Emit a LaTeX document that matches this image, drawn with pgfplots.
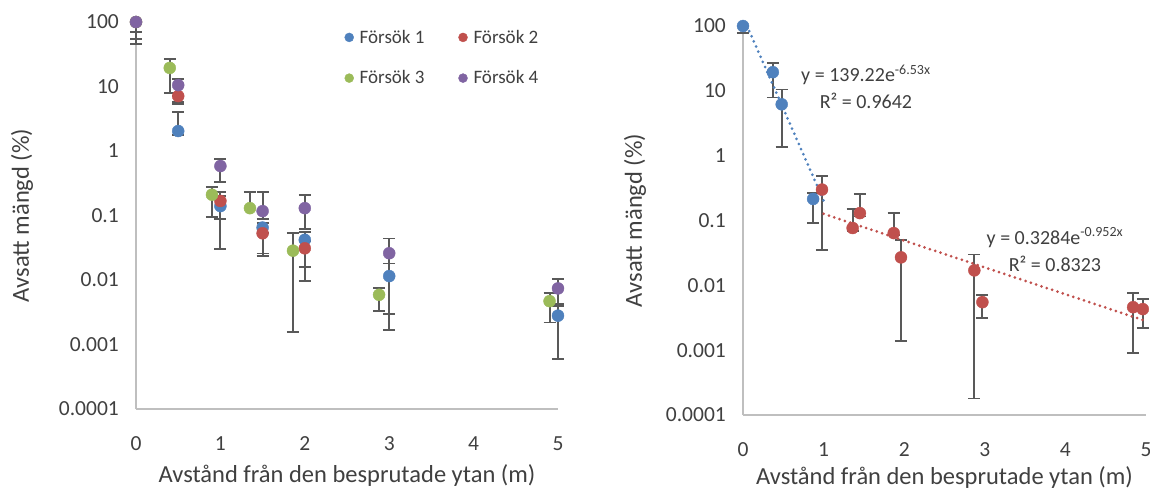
\documentclass[border=0pt]{standalone}
\usepackage{pgfplots}
\usepackage{pgfplotstable}
\pgfplotsset{compat=1.18}
\usepackage{fontspec}
\setmainfont{Carlito}
\definecolor{s1}{HTML}{4F81BD}
\definecolor{s2}{HTML}{C0504D}
\definecolor{s3}{HTML}{9BBB59}
\definecolor{s4}{HTML}{8064A2}
\definecolor{errc}{HTML}{595959}
\definecolor{axc}{HTML}{BFBFBF}
\definecolor{txt}{HTML}{404040}

% Left chart: x y (error plus) (error minus)
\pgfplotstableread{
x y ep em
0 100 0 30
0.5 2.04 1.96 0.27
1 0.14 0.06 0.11
1.5 0.065 0.012 0.0393
2 0.042 0.013 0.0261
3 0.0115 0.0065 0.0098
5 0.0028 0.0012 0.0022
}\Lone
\pgfplotstableread{
x y ep em
0 100 0 46
0.5 7.1 0 1.7
1 0.168 0.062 0.079
1.5 0.053 0 0.0295
2 0.031 0.009 0.0213
}\Ltwo
\pgfplotstableread{
x y ep em
0 100 0 54
0.4 19.4 7.3 11.5
0.9 0.21 0.065 0.115
1.35 0.13 0.10 0
1.86 0.0285 0.0245 0.02694
2.88 0.0059 0.0016 0.0026
4.9 0.0047 0.0016 0.0025
}\Lthree
\pgfplotstableread{
x y ep em
0 100 0 0
0.5 10.5 2.6 4.75
1 0.585 0.165 0.255
1.5 0.117 0.113 0.028
2 0.13 0.08 0.069
3 0.026 0.018 0.023
5 0.0074 0.003 0.0031
}\Lfour
% Right chart
\pgfplotstableread{
x y ep em
0 100 0 22
0.37 19.4 7.4 11.5
0.48 6.2 4.3 4.82
0.87 0.215 0.052 0.123
}\Rone
\pgfplotstableread{
x y ep em
0.98 0.30 0.19 0.265
1.36 0.0766 0.074 0.0076
1.45 0.13 0.127 0.015
1.87 0.064 0.066 0.004
1.96 0.027 0.023 0.0256
2.87 0.017 0.013 0.01682
2.97 0.0055 0.0016 0.0024
4.84 0.0046 0.003 0.0037
4.96 0.0043 0.0019 0.0021
}\Rtwo

\pgfplotsset{
  pts/.style={only marks, mark=*, mark size=6pt, color=#1,
    error bars/y dir=both, error bars/y explicit,
    error bars/draw error bar/.code 2 args={%
      \draw[errc, line width=2.1pt] ##1 -- ##2;
      \draw[errc, line width=1.8pt] ##2 ++(-6pt,0) -- ++(12pt,0);}},
  trend/.style={#1, no marks, line width=3pt, line cap=round, dash pattern=on 0pt off 5.6pt},
}

\begin{document}
\begin{tikzpicture}
\useasboundingbox (0,0) rectangle (1150pt,491pt);

\begin{axis}[
  scale only axis, ymode=log, xmin=0, xmax=5, ymin=1e-4, ymax=100,
  axis x line*=bottom, axis y line*=left,
  axis line style={draw=axc, line width=1.5pt, -},
  major tick length=0pt, minor tick length=0pt,
  xtick={0,1,2,3,4,5}, xticklabels={0,1,2,3,4,5},
  ytick={1e-4,1e-3,1e-2,1e-1,1,10,100},
  yticklabels={0.0001,0.001,0.01,0.1,1,10,100},
  tick label style={font=\fontsize{21.5}{24}\selectfont, text=txt},
  yticklabel style={anchor=east, inner sep=0pt, xshift=-17pt},
  xticklabel style={anchor=north, inner sep=0pt, yshift=-27pt},
  clip=false,
  at={(136pt,82pt)}, anchor=south west, width=422pt, height=387pt,
  xlabel={Avstånd från den besprutade ytan (m)},
  ylabel={Avsatt mängd (\%)},
  every axis x label/.style={at={(axis description cs:0.5,0)}, anchor=center, yshift=-67pt,
    font=\fontsize{24.5}{28}\selectfont, text=txt},
  every axis y label/.style={at={(axis description cs:0,0.5)}, xshift=-114pt, rotate=90, anchor=center,
    font=\fontsize{24.5}{28}\selectfont, text=txt},
  legend columns=2,
  legend image post style={mark size=4.5pt},
  legend style={at={(0.487,0.99)}, anchor=north west, draw=none, fill=none,
    font=\fontsize{19}{21}\selectfont, text=txt, row sep=22pt,
    nodes={inner xsep=6pt},
    /tikz/every even column/.append style={column sep=28pt}},
]
\addplot[pts=s1] table[x=x,y=y,y error plus=ep,y error minus=em]{\Lone};
\addlegendentry{Försök 1}
\addplot[pts=s2] table[x=x,y=y,y error plus=ep,y error minus=em]{\Ltwo};
\addlegendentry{Försök 2}
\addplot[pts=s3] table[x=x,y=y,y error plus=ep,y error minus=em]{\Lthree};
\addlegendentry{Försök 3}
\addplot[pts=s4] table[x=x,y=y,y error plus=ep,y error minus=em]{\Lfour};
\addlegendentry{Försök 4}
\end{axis}

\begin{axis}[
  scale only axis, ymode=log, xmin=0, xmax=5, ymin=1e-4, ymax=100,
  axis x line*=bottom, axis y line*=left,
  axis line style={draw=axc, line width=1.5pt, -},
  major tick length=0pt, minor tick length=0pt,
  xtick={0,1,2,3,4,5}, xticklabels={0,1,2,3,4,5},
  ytick={1e-4,1e-3,1e-2,1e-1,1,10,100},
  yticklabels={0.0001,0.001,0.01,0.1,1,10,100},
  tick label style={font=\fontsize{21.5}{24}\selectfont, text=txt},
  yticklabel style={anchor=east, inner sep=0pt, xshift=-17pt},
  xticklabel style={anchor=north, inner sep=0pt, yshift=-27pt},
  clip=false,
  at={(743pt,76pt)}, anchor=south west, width=403pt, height=389pt,
  xlabel={Avstånd från den besprutade ytan (m)},
  ylabel={Avsatt mängd (\%)},
  every axis x label/.style={at={(axis description cs:0.5,0)}, anchor=center, yshift=-63pt,
    font=\fontsize{24.5}{28}\selectfont, text=txt},
  every axis y label/.style={at={(axis description cs:0,0.5)}, xshift=-108pt, rotate=90, anchor=center,
    font=\fontsize{24.5}{28}\selectfont, text=txt},
]
\addplot[pts=s1] table[x=x,y=y,y error plus=ep,y error minus=em]{\Rone};
\addplot[pts=s2] table[x=x,y=y,y error plus=ep,y error minus=em]{\Rtwo};
\addplot[trend=s1] coordinates {(0.0506,100) (1,0.2030)};
\addplot[trend=s2] coordinates {(1,0.1268) (4.96,0.002923)};
\node[align=center, text=txt, font=\fontsize{20}{27}\selectfont] at (rel axis cs:0.305,0.843)
  {y = 139.22e\textsuperscript{-6.53x}\\R² = 0.9642};
\node[align=center, text=txt, font=\fontsize{20}{27}\selectfont] at (rel axis cs:0.774,0.4255)
  {y = 0.3284e\textsuperscript{-0.952x}\\R² = 0.8323};
\end{axis}
\end{tikzpicture}
\end{document}
